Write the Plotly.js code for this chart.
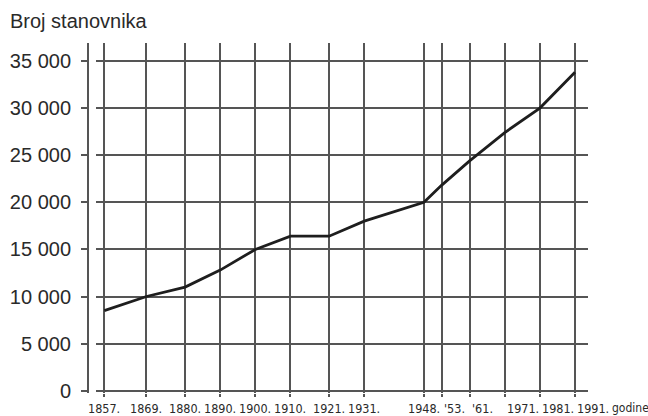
<!DOCTYPE html>
<html>
<head>
<meta charset="utf-8">
<script src="https://cdn.plot.ly/plotly-3.0.1.min.js"></script>
<style>html,body{margin:0;padding:0;background:#fff;}#chart{width:648px;height:416px;}</style>
</head>
<body>
<div id="chart"></div>
<script>
const years = [1857, 1869, 1880, 1890, 1900, 1910, 1921, 1931, 1948, 1953, 1961, 1971, 1981, 1991];
const population = [8500, 10000, 11000, 12800, 15000, 16400, 16400, 18000, 20000, 21800, 24400, 27400, 30000, 33800];
const yearLabels = ["1857.", "1869.", "1880.", "1890.", "1900.", "1910.", "1921.", "1931.", "1948.", "'53.", "'61.", "1971.", "1981.", "1991."];
const yTickVals = [0, 5000, 10000, 15000, 20000, 25000, 30000, 35000];
const yTickText = ["0", "5 000", "10 000", "15 000", "20 000", "25 000", "30 000", "35 000"];
const titleText = "Broj stanovnika";
const xUnitText = "godine";

const narrow = "'DejaVu Sans Condensed', 'Liberation Sans Narrow', 'Arial Narrow', sans-serif";
const sans = "'Liberation Sans', Arial, Helvetica, sans-serif";
const gridCol = "#555555";
const textCol = "#2a2a2a";
const labelY = (393 - 408) / 350;

const trace = {
  x: years, y: population, type: "scatter", mode: "lines",
  line: {color: "#1e1e1e", width: 2.8},
  hoverinfo: "skip"
};

// x tick labels: set below the axis at each year; the post-war labels start at their gridline, as in the print
const yearAnnotations = years.map((yr, i) => ({
  text: yearLabels[i], xref: "x", yref: "paper",
  x: yr, y: labelY, xanchor: yr > 1950 ? "left" : "center", yanchor: "middle",
  showarrow: false, font: {family: narrow, size: 12.5, color: textCol}
}));

const layout = {
  width: 648, height: 416,
  margin: {l: 88, r: 60, t: 43, b: 23, pad: 0},
  paper_bgcolor: "#fff", plot_bgcolor: "#fff",
  showlegend: false,
  title: {
    text: titleText, xref: "container", yref: "container",
    x: 10/648, xanchor: "left", y: 1 - 21/416, yanchor: "middle",
    font: {family: sans, size: 20, color: textCol}
  },
  xaxis: {
    domain: [0.016, 1],
    range: [1854.64, 1994.70],
    tickmode: "array", tickvals: years, ticktext: yearLabels,
    showticklabels: false,
    showgrid: true, gridcolor: gridCol, gridwidth: 2,
    zeroline: false, showline: false,
    ticks: "outside", ticklen: 3, tickcolor: gridCol, tickwidth: 2,
    automargin: false, fixedrange: true
  },
  yaxis: {
    anchor: "free", position: 0,
    range: [-244, 36911],
    tickmode: "array", tickvals: yTickVals, ticktext: yTickText,
    showgrid: true, gridcolor: gridCol, gridwidth: 2,
    zeroline: false,
    showline: true, linecolor: gridCol, linewidth: 2,
    ticks: "outside", ticklen: 6, tickcolor: gridCol, tickwidth: 2,
    ticklabelstandoff: 6,
    tickfont: {family: sans, size: 20, color: textCol},
    automargin: false, fixedrange: true
  },
  annotations: yearAnnotations.concat([{
    text: xUnitText, xref: "paper", yref: "paper",
    x: (610 - 88)/500, xanchor: "left", y: labelY, yanchor: "middle",
    showarrow: false, font: {family: narrow, size: 12, color: textCol}
  }])
};

Plotly.newPlot("chart", [trace], layout, {displayModeBar: false, staticPlot: true});
</script>
</body>
</html>
